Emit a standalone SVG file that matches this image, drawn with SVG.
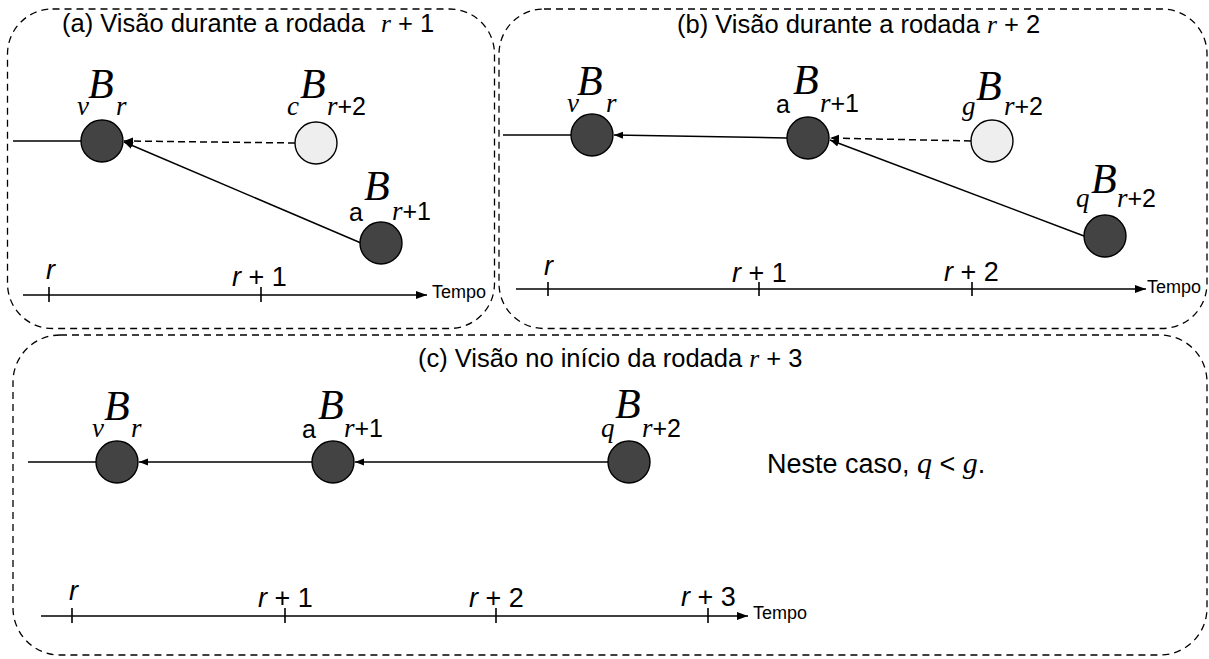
<svg xmlns="http://www.w3.org/2000/svg" width="1209" height="659" viewBox="0 0 1209 659">
  <style>
    .panel { fill: none; stroke: #000; stroke-width: 1.3; stroke-dasharray: 7 5; }
    .title { font-family: "Liberation Sans", Arial, sans-serif; font-size: 25.5px; fill: #000; }
    .mi { font-family: "Liberation Serif", "Times New Roman", serif; font-style: italic; }
    .big { font-family: "Liberation Serif", "Times New Roman", serif; font-style: italic; font-size: 42px; }
    .sub { font-family: "Liberation Serif", "Times New Roman", serif; font-style: italic; font-size: 27px; }
    .subs { font-family: "Liberation Sans", Arial, sans-serif; font-style: normal; font-size: 25px; }
    .dark { fill: #434343; stroke: #000; stroke-width: 1.4; }
    .light { fill: #eeeeee; stroke: #000; stroke-width: 1.4; }
    .edge { fill: none; stroke: #000; stroke-width: 1.5; }
    .dash { stroke-dasharray: 7 4; }
    .axis { fill: none; stroke: #000; stroke-width: 1.6; }
    .tick { stroke: #000; stroke-width: 1.6; }
    .tl { font-family: "Liberation Sans", Arial, sans-serif; font-size: 27px; }
    .ti { font-style: italic; }
    .tempo { font-family: "Liberation Sans", Arial, sans-serif; font-size: 18px; }
  </style>
  <defs>
    <marker id="arr" markerUnits="userSpaceOnUse" markerWidth="11" markerHeight="9" refX="9" refY="3.5" orient="auto">
      <path d="M0,0 L9,3.5 L0,7 z" fill="#000"/>
    </marker>
    <marker id="axarr" markerUnits="userSpaceOnUse" markerWidth="12" markerHeight="10" refX="11" refY="4" orient="auto">
      <path d="M0,0 L11,4 L0,8 z" fill="#000"/>
    </marker>
  </defs>

  <!-- panel frames and titles -->
  <g id="panel-a">
    <rect class="panel" x="7.5" y="9" width="487" height="319.5" rx="45"/>
    <text class="title" x="62" y="32">(a) Visão durante a rodada<tspan class="mi" x="381">r</tspan><tspan> + 1</tspan></text>
  </g>
  <g id="panel-b">
    <rect class="panel" x="499" y="9" width="708" height="319.5" rx="45"/>
    <text class="title" x="677" y="33">(b) Visão durante a rodada <tspan class="mi">r</tspan> + 2</text>
  </g>
  <g id="panel-c">
    <rect class="panel" x="13" y="335" width="1194" height="320" rx="47"/>
    <text class="title" x="418" y="367">(c) Visão no início da rodada <tspan class="mi">r</tspan> + 3</text>
  </g>

  <!-- time axes -->
  <g id="axis-a">
    <line class="axis" x1="23" y1="295" x2="427" y2="295" marker-end="url(#axarr)"/>
    <line class="tick" x1="49" y1="287" x2="49" y2="302"/>
    <line class="tick" x1="261" y1="287" x2="261" y2="302"/>
    <text class="tl ti" x="46" y="279">r</text>
    <text class="tl" x="232" y="286"><tspan class="ti">r</tspan> + 1</text>
    <text class="tempo" x="432" y="298">Tempo</text>
  </g>
  <g id="axis-b">
    <line class="axis" x1="516" y1="289" x2="1146" y2="289" marker-end="url(#axarr)"/>
    <line class="tick" x1="548" y1="282" x2="548" y2="296"/>
    <line class="tick" x1="759" y1="282" x2="759" y2="296"/>
    <line class="tick" x1="972" y1="282" x2="972" y2="296"/>
    <text class="tl ti" x="544" y="275">r</text>
    <text class="tl" x="732" y="282"><tspan class="ti">r</tspan> + 1</text>
    <text class="tl" x="944" y="281"><tspan class="ti">r</tspan> + 2</text>
    <text class="tempo" x="1147" y="293">Tempo</text>
  </g>
  <g id="axis-c">
    <line class="axis" x1="41" y1="616" x2="748" y2="616" marker-end="url(#axarr)"/>
    <line class="tick" x1="72" y1="608" x2="72" y2="623"/>
    <line class="tick" x1="285" y1="608" x2="285" y2="623"/>
    <line class="tick" x1="496" y1="608" x2="496" y2="623"/>
    <line class="tick" x1="708" y1="608" x2="708" y2="623"/>
    <text class="tl ti" x="69" y="600">r</text>
    <text class="tl" x="258" y="607"><tspan class="ti">r</tspan> + 1</text>
    <text class="tl" x="469" y="607"><tspan class="ti">r</tspan> + 2</text>
    <text class="tl" x="681" y="606"><tspan class="ti">r</tspan> + 3</text>
    <text class="tempo" x="753" y="619">Tempo</text>
  </g>

  <!-- connectors -->
  <g id="connectors">
    <line class="edge" x1="13" y1="141" x2="81" y2="141"/>
    <line class="edge dash" x1="295" y1="143" x2="124" y2="141" marker-end="url(#arr)"/>
    <line class="edge" x1="361" y1="243" x2="124" y2="142" marker-end="url(#arr)"/>

    <line class="edge" x1="503" y1="135" x2="571" y2="135"/>
    <line class="edge" x1="787" y1="138" x2="614" y2="135" marker-end="url(#arr)"/>
    <line class="edge dash" x1="971" y1="141" x2="830" y2="138" marker-end="url(#arr)"/>
    <line class="edge" x1="1084" y1="236" x2="830" y2="140" marker-end="url(#arr)"/>

    <line class="edge" x1="28" y1="462" x2="96" y2="462"/>
    <line class="edge" x1="312" y1="462" x2="139" y2="462" marker-end="url(#arr)"/>
    <line class="edge" x1="608" y1="462" x2="355" y2="462" marker-end="url(#arr)"/>
  </g>

  <!-- blocks, panel (a) -->
  <g id="a-v-r">
    <circle class="dark" cx="102" cy="141" r="21"/>
    <text class="big" x="88" y="98">B</text>
    <text class="sub" x="77" y="115">v</text>
    <text class="sub" x="116" y="115">r</text>
  </g>
  <g id="a-c-r2">
    <circle class="light" cx="316" cy="143" r="21"/>
    <text class="big" x="300" y="98">B</text>
    <text class="sub" x="287" y="115">c</text>
    <text class="sub" x="327" y="115">r<tspan class="subs">+2</tspan></text>
  </g>
  <g id="a-a-r1">
    <circle class="dark" cx="381" cy="243" r="21"/>
    <text class="big" x="364" y="200">B</text>
    <text class="subs" x="349" y="221">a</text>
    <text class="sub" x="392" y="220">r<tspan class="subs">+1</tspan></text>
  </g>

  <!-- blocks, panel (b) -->
  <g id="b-v-r">
    <circle class="dark" cx="592" cy="135" r="21"/>
    <text class="big" x="577" y="95">B</text>
    <text class="sub" x="567" y="112">v</text>
    <text class="sub" x="606" y="112">r</text>
  </g>
  <g id="b-a-r1">
    <circle class="dark" cx="808" cy="138" r="21"/>
    <text class="big" x="793" y="94">B</text>
    <text class="subs" x="776" y="113">a</text>
    <text class="sub" x="820" y="112">r<tspan class="subs">+1</tspan></text>
  </g>
  <g id="b-g-r2">
    <circle class="light" cx="992" cy="141" r="21"/>
    <text class="big" x="976" y="100">B</text>
    <text class="sub" x="962" y="115">g</text>
    <text class="sub" x="1004" y="115">r<tspan class="subs">+2</tspan></text>
  </g>
  <g id="b-q-r2">
    <circle class="dark" cx="1105" cy="236" r="21"/>
    <text class="big" x="1091" y="193">B</text>
    <text class="sub" x="1076" y="207">q</text>
    <text class="sub" x="1117" y="207">r<tspan class="subs">+2</tspan></text>
  </g>

  <!-- blocks, panel (c) -->
  <g id="c-v-r">
    <circle class="dark" cx="117" cy="462" r="21"/>
    <text class="big" x="104" y="420">B</text>
    <text class="sub" x="92" y="437">v</text>
    <text class="sub" x="131" y="437">r</text>
  </g>
  <g id="c-a-r1">
    <circle class="dark" cx="333" cy="462" r="21"/>
    <text class="big" x="318" y="419">B</text>
    <text class="subs" x="302" y="438">a</text>
    <text class="sub" x="344" y="437">r<tspan class="subs">+1</tspan></text>
  </g>
  <g id="c-q-r2">
    <circle class="dark" cx="629" cy="462" r="21"/>
    <text class="big" x="615" y="418">B</text>
    <text class="sub" x="601" y="437">q</text>
    <text class="sub" x="642" y="437">r<tspan class="subs">+2</tspan></text>
  </g>

  <text class="title" x="767" y="473" style="font-size:27px">Neste caso, <tspan class="mi" style="font-size:30px">q</tspan> &lt; <tspan class="mi" style="font-size:30px">g</tspan>.</text>
</svg>
